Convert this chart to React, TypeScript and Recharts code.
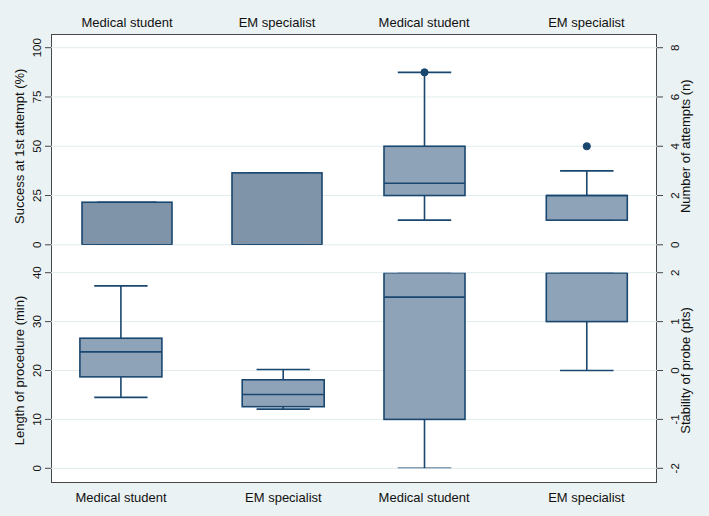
import React from 'react';
import { ComposedChart, Bar, XAxis, YAxis, CartesianGrid } from 'recharts';

// ---------- data ----------
const groups = ['Medical student', 'EM specialist'];

// Success at 1st attempt (%)
const successMin = [0, 0];
const successQ1 = [0, 0];
const successMedian = [0, 0];
const successQ3 = [21.6, 36.5];
const successMax = [21.6, 36.5];
const successOutliers: number[][] = [[], []];
const successTicks = [0, 25, 50, 75, 100];

// Number of attempts (n)
const attemptsMin = [1, 1];
const attemptsQ1 = [2, 1];
const attemptsMedian = [2.5, 2];
const attemptsQ3 = [4, 2];
const attemptsMax = [7, 3];
const attemptsOutliers: number[][] = [[7], [4]];
const attemptsTicks = [0, 2, 4, 6, 8];

// Length of procedure (min)
const lengthMin = [14.5, 12.1];
const lengthQ1 = [18.7, 12.6];
const lengthMedian = [23.8, 15.1];
const lengthQ3 = [26.6, 18.1];
const lengthMax = [37.3, 20.2];
const lengthOutliers: number[][] = [[], []];
const lengthTicks = [0, 10, 20, 30, 40];

// Stability of probe (pts)
const stabilityMin = [-2, 0];
const stabilityQ1 = [-1, 1];
const stabilityMedian = [1.5, 2];
const stabilityQ3 = [2, 2];
const stabilityMax = [2, 2];
const stabilityOutliers: number[][] = [[], []];
const stabilityTicks = [-2, -1, 0, 1, 2];

// ---------- styling / layout ----------
const FONT = '"Liberation Sans", Arial, Helvetica, sans-serif';
const W = 709;
const H = 516;
const BG = '#eaf2f3';
const NAVY = '#1a476f';
const FRAME = '#474747';
const GRID = '#e2ecee';

function buildRows(
  min: number[], q1: number[], med: number[], q3: number[], max: number[], out: number[][]
) {
  return groups.map((g, i) => ({
    group: g,
    min: min[i],
    q1: q1[i],
    median: med[i],
    q3: q3[i],
    max: max[i],
    outliers: out[i],
    range: [min[i], max[i]],
  }));
}

const successRows = buildRows(successMin, successQ1, successMedian, successQ3, successMax, successOutliers);
const attemptsRows = buildRows(attemptsMin, attemptsQ1, attemptsMedian, attemptsQ3, attemptsMax, attemptsOutliers);
const lengthRows = buildRows(lengthMin, lengthQ1, lengthMedian, lengthQ3, lengthMax, lengthOutliers);
const stabilityRows = buildRows(stabilityMin, stabilityQ1, stabilityMedian, stabilityQ3, stabilityMax, stabilityOutliers);

const makeBoxShape = (fill: string, capRatio: number) => (props: any) => {
  const { x, y, width, height, payload } = props;
  if (x == null || y == null || !payload) return null;
  const top = Math.min(y, y + height);
  const bottom = Math.max(y, y + height);
  const lo = payload.min;
  const hi = payload.max;
  const span = hi - lo || 1;
  const toPx = (v: number) => bottom - ((v - lo) / span) * (bottom - top);
  const cx = x + width / 2;
  const capHalf = (width * capRatio) / 2;
  const yQ1 = toPx(payload.q1);
  const yQ3 = toPx(payload.q3);
  const yMed = toPx(payload.median);
  const yMin = toPx(payload.min);
  const yMax = toPx(payload.max);
  return (
    <g>
      <line x1={cx} x2={cx} y1={yMax} y2={yQ3} stroke={NAVY} strokeWidth={1.6} />
      <line x1={cx} x2={cx} y1={yQ1} y2={yMin} stroke={NAVY} strokeWidth={1.6} />
      <line x1={cx - capHalf} x2={cx + capHalf} y1={yMax} y2={yMax} stroke={NAVY} strokeWidth={1.6} />
      <line x1={cx - capHalf} x2={cx + capHalf} y1={yMin} y2={yMin} stroke={NAVY} strokeWidth={1.6} />
      <rect x={x} y={yQ3} width={width} height={Math.max(0, yQ1 - yQ3)} fill={fill} stroke={NAVY} strokeWidth={1.6} />
      <line x1={x} x2={x + width} y1={yMed} y2={yMed} stroke={NAVY} strokeWidth={1.6} />
      {(payload.outliers as number[]).map((o, i) => (
        <circle key={i} cx={cx} cy={toPx(o)} r={3.6} fill={NAVY} stroke={NAVY} />
      ))}
    </g>
  );
};

const YTick = (props: any) => {
  const { x, y, payload } = props;
  return (
    <text
      transform={`translate(${x},${y}) rotate(-90)`}
      textAnchor="middle"
      dy="0.35em"
      fontSize={11.5}
      fontFamily={FONT}
      fill="#111"
    >
      {payload.value}
    </text>
  );
};

const XTick = (props: any) => {
  const { x, y, payload } = props;
  return (
    <text x={x} y={y} textAnchor="middle" fontSize={13} fontFamily={FONT} fill="#111">
      {payload.value}
    </text>
  );
};

const AxisTitle = (props: any) => {
  const { viewBox, text, dx } = props;
  if (!viewBox) return null;
  const cx = viewBox.x + dx;
  const cy = viewBox.y + viewBox.height / 2;
  return (
    <text
      transform={`translate(${cx},${cy}) rotate(-90)`}
      textAnchor="middle"
      dy="0.35em"
      fontSize={13}
      fontFamily={FONT}
      fill="#111"
    >
      {text}
    </text>
  );
};

type PanelProps = {
  rows: any[];
  ticks: number[];
  side: 'left' | 'right';
  row: 'top' | 'bottom';
  title: string;
  fill: string;
  barSize: number;
  padL: number;
  padR: number;
  capRatio: number;
  grid: boolean;
};

const AXIS_W = 40;
const XAXIS_H = 30;

function Panel({ rows, ticks, side, row, title, fill, barSize, padL, padR, capRatio, grid }: PanelProps) {
  const margin =
    row === 'top'
      ? { top: 47.7 - XAXIS_H, bottom: H - 244.8 }
      : { top: 272.7, bottom: H - 468.3 - XAXIS_H };
  const m =
    side === 'left'
      ? { ...margin, left: 51 - AXIS_W, right: W - 657 }
      : { ...margin, left: 51, right: W - 657 - AXIS_W };
  const shape = makeBoxShape(fill, capRatio);
  return (
    <div style={{ position: 'absolute', left: 0, top: 0, width: W, height: H }}>
      <ComposedChart width={W} height={H} data={rows} margin={m}>
        {grid && <CartesianGrid horizontal vertical={false} stroke={GRID} strokeWidth={1} />}
        <XAxis
          dataKey="group"
          type="category"
          orientation={row === 'top' ? 'top' : 'bottom'}
          height={XAXIS_H}
          axisLine={false}
          tickLine={false}
          tickSize={0}
          tickMargin={row === 'top' ? 21.2 : 33.2}
          interval={0}
          padding={{ left: padL, right: padR }}
          tick={<XTick />}
        />
        <YAxis
          orientation={side}
          width={AXIS_W}
          domain={[ticks[0], ticks[ticks.length - 1]]}
          ticks={ticks}
          interval={0}
          type="number"
          allowDataOverflow
          axisLine={false}
          tickLine={{ stroke: FRAME, strokeWidth: 1 }}
          tickSize={6}
          tickMargin={side === 'left' ? 8 : 12}
          tick={<YTick />}
          label={<AxisTitle text={title} dx={side === 'left' ? 8 : 28} />}
        />
        <Bar dataKey="range" barSize={barSize} isAnimationActive={false} shape={shape} />
      </ComposedChart>
    </div>
  );
}

export default function App() {
  return (
    <div style={{ position: 'relative', width: W, height: H, background: BG, overflow: 'hidden' }}>
      <style>{'body{margin:0;}'}</style>
      <div
        style={{
          position: 'absolute',
          left: 51,
          top: 34,
          width: 606,
          height: 449,
          boxSizing: 'border-box',
          border: `1px solid ${FRAME}`,
          background: '#ffffff',
        }}
      />
      <Panel
        rows={successRows}
        ticks={successTicks}
        side="left"
        row="top"
        title="Success at 1st attempt (%)"
        fill="#7f93a9"
        barSize={90}
        padL={1}
        padR={305}
        capRatio={0.66}
        grid
      />
      <Panel
        rows={attemptsRows}
        ticks={attemptsTicks}
        side="right"
        row="top"
        title="Number of attempts (n)"
        fill="#8fa3b8"
        barSize={81}
        padL={292}
        padR={-10.6}
        capRatio={0.66}
        grid={false}
      />
      <Panel
        rows={lengthRows}
        ticks={lengthTicks}
        side="left"
        row="bottom"
        title="Length of procedure (min)"
        fill="#8fa3b8"
        barSize={82}
        padL={-11.1}
        padR={292.5}
        capRatio={0.65}
        grid
      />
      <Panel
        rows={stabilityRows}
        ticks={stabilityTicks}
        side="right"
        row="bottom"
        title="Stability of probe (pts)"
        fill="#8fa3b8"
        barSize={81}
        padL={292}
        padR={-10.6}
        capRatio={0.66}
        grid={false}
      />
    </div>
  );
}
